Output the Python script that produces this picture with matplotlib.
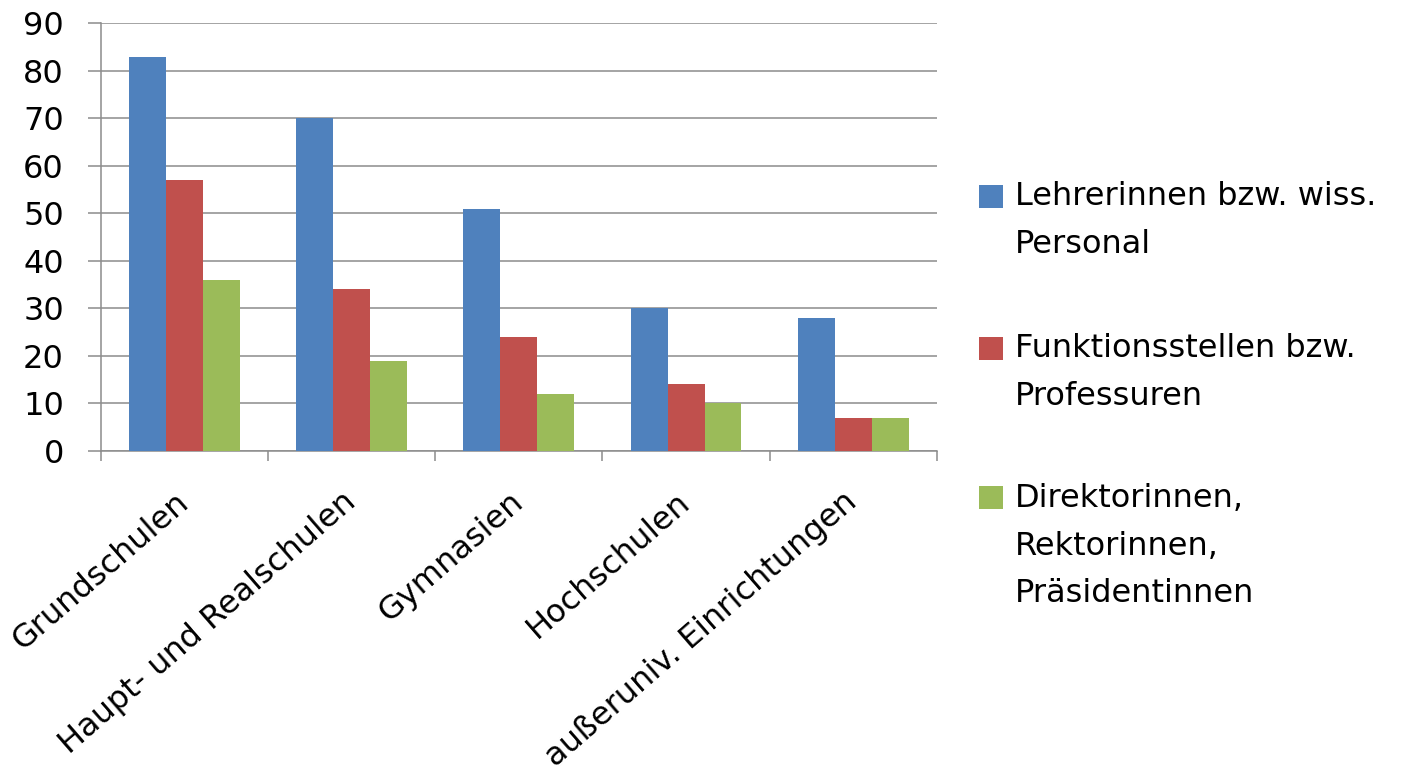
import matplotlib
matplotlib.use('Agg')
import matplotlib.pyplot as plt
from matplotlib.patches import Rectangle
import numpy as np

# Daten
kategorien = ['Grundschulen', 'Haupt- und Realschulen', 'Gymnasien',
              'Hochschulen', 'außeruniv. Einrichtungen']
lehrerinnen = [83, 70, 51, 30, 28]
funktionsstellen = [57, 34, 24, 14, 7]
direktorinnen = [36, 19, 12, 10, 7]
serien_namen = ['Lehrerinnen bzw. wiss.\nPersonal',
                'Funktionsstellen bzw.\nProfessuren',
                'Direktorinnen,\nRektorinnen,\nPräsidentinnen']
farben = ['#4F81BD', '#C0504D', '#9BBB59']

plt.rcParams['font.family'] = ['DejaVu Sans']
GRAU = '#8c8c8c'
FS = 23

fig = plt.figure(figsize=(14.02, 7.77), dpi=100)
ax = fig.add_axes([0.0717, 0.4196, 0.5966, 0.5504])

x = np.arange(len(kategorien))
breite = 0.221
for i, (werte, farbe) in enumerate(zip([lehrerinnen, funktionsstellen, direktorinnen], farben)):
    ax.bar(x + (i - 1) * breite, werte, width=breite, color=farbe, zorder=3)

ax.set_xlim(-0.5, len(kategorien) - 0.5)
ax.set_ylim(0, 90)
ax.set_yticks(np.arange(0, 91, 10))
ax.yaxis.grid(True, color=GRAU, linewidth=1.1, zorder=0)
ax.tick_params(axis='y', labelsize=FS, length=9.4, width=1.1, color=GRAU, pad=17)

# Kategorien-Beschriftung in der Mitte, Striche an den Grenzen
ax.set_xticks(x)
ax.set_xticklabels(kategorien, rotation=41, ha='right', va='center',
                   rotation_mode='anchor', fontsize=FS)
ax.tick_params(axis='x', which='major', length=0, pad=34)
ax.set_xticks(np.arange(-0.5, len(kategorien), 1), minor=True)
ax.tick_params(axis='x', which='minor', length=7.5, width=1.1, color=GRAU)

for s in ['top', 'right']:
    ax.spines[s].set_visible(False)
for s in ['left', 'bottom']:
    ax.spines[s].set_color(GRAU)
    ax.spines[s].set_linewidth(1.1)

# Legende (manuell, Marker auf Höhe der ersten Zeile)
W, H = 1402, 777
eintrag_y = [196, 348, 498]
for name, farbe, yy in zip(serien_namen, farben, eintrag_y):
    fig.patches.append(Rectangle((979 / W, 1 - (yy + 11.5) / H), 24 / W, 23 / H,
                                 transform=fig.transFigure, facecolor=farbe,
                                 edgecolor='none'))
    fig.text(1015 / W, 1 - (yy - 15) / H, name, fontsize=FS, va='top',
             ha='left', linespacing=1.69)

fig.savefig('out.png', dpi=100)
